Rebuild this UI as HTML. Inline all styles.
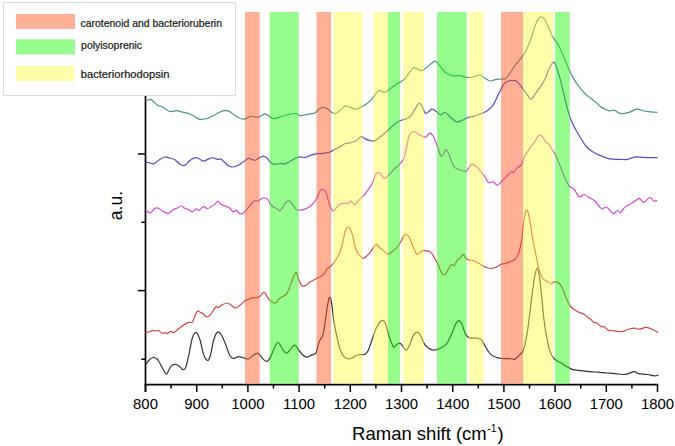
<!DOCTYPE html>
<html><head><meta charset="utf-8">
<style>
html,body{margin:0;padding:0;background:#fff;}
body{width:675px;height:446px;overflow:hidden;}
svg{display:block;font-family:"Liberation Sans",sans-serif;}
</style></head>
<body>
<svg width="675" height="446" viewBox="0 0 675 446">
<rect x="0" y="0" width="675" height="446" fill="#fff"/>
<!-- legend -->
<rect x="3.5" y="2.5" width="232" height="93" fill="#fff" stroke="#dadada" stroke-width="1"/>
<rect x="16" y="14" width="59" height="15" fill="#FFB096"/>
<rect x="16" y="39.3" width="59" height="15" fill="#96FC8E"/>
<rect x="16" y="66" width="58.5" height="15" fill="#FFFCAA"/>
<g font-size="10.5" fill="#151515" stroke="#151515" stroke-width="0.2">
<text x="80.6" y="26.6" textLength="141.4" lengthAdjust="spacingAndGlyphs">carotenoid and bacterioruberin</text>
<text x="81.1" y="49.2" textLength="61" lengthAdjust="spacingAndGlyphs">polyisoprenic</text>
<text x="80.8" y="77.7" textLength="88.6" lengthAdjust="spacingAndGlyphs">bacteriorhodopsin</text>
</g>
<!-- axes -->
<g stroke="#000" stroke-width="1.7" fill="none">
<line x1="145.5" y1="96" x2="145.5" y2="392"/>
<line x1="144.6" y1="384.6" x2="658.3" y2="384.6"/>
</g>
<g id="xticks" stroke="#000" stroke-width="1.5">
<line x1="145.5" y1="384.5" x2="145.5" y2="392"/>
<line x1="171.1" y1="384.5" x2="171.1" y2="388.5"/>
<line x1="196.7" y1="384.5" x2="196.7" y2="392"/>
<line x1="222.3" y1="384.5" x2="222.3" y2="388.5"/>
<line x1="247.9" y1="384.5" x2="247.9" y2="392"/>
<line x1="273.5" y1="384.5" x2="273.5" y2="388.5"/>
<line x1="299.1" y1="384.5" x2="299.1" y2="392"/>
<line x1="324.7" y1="384.5" x2="324.7" y2="388.5"/>
<line x1="350.3" y1="384.5" x2="350.3" y2="392"/>
<line x1="375.9" y1="384.5" x2="375.9" y2="388.5"/>
<line x1="401.5" y1="384.5" x2="401.5" y2="392"/>
<line x1="427.1" y1="384.5" x2="427.1" y2="388.5"/>
<line x1="452.7" y1="384.5" x2="452.7" y2="392"/>
<line x1="478.3" y1="384.5" x2="478.3" y2="388.5"/>
<line x1="503.9" y1="384.5" x2="503.9" y2="392"/>
<line x1="529.5" y1="384.5" x2="529.5" y2="388.5"/>
<line x1="555.1" y1="384.5" x2="555.1" y2="392"/>
<line x1="580.7" y1="384.5" x2="580.7" y2="388.5"/>
<line x1="606.3" y1="384.5" x2="606.3" y2="392"/>
<line x1="631.9" y1="384.5" x2="631.9" y2="388.5"/>
<line x1="657.5" y1="384.5" x2="657.5" y2="392"/>
</g>
<g id="yticks" stroke="#000" stroke-width="1.5">
<line x1="138" y1="154" x2="145" y2="154"/>
<line x1="141.3" y1="222.3" x2="145" y2="222.3"/>
<line x1="138" y1="290.6" x2="145" y2="290.6"/>
<line x1="141.3" y1="359.2" x2="145" y2="359.2"/>
</g>
<g id="xlabels" font-size="14.9" text-anchor="middle" fill="#000">
<text x="145.5" y="409">800</text>
<text x="196.7" y="409">900</text>
<text x="247.9" y="409">1000</text>
<text x="299.1" y="409">1100</text>
<text x="350.3" y="409">1200</text>
<text x="401.5" y="409">1300</text>
<text x="452.7" y="409">1400</text>
<text x="503.9" y="409">1500</text>
<text x="555.1" y="409">1600</text>
<text x="606.3" y="409">1700</text>
<text x="657.5" y="409">1800</text>
</g>
<text x="352.1" y="440.4" font-size="18.5">Raman shift (cm<tspan font-size="10.5" dy="-8" dx="0.5">-1</tspan><tspan dy="8" dx="0.8">)</tspan></text>
<text transform="translate(122.0,205.6) rotate(-90)" font-size="17.6" text-anchor="middle">a.u.</text>
<!-- curves -->
<g id="curves" fill="none" stroke-width="1.2" stroke-linejoin="round">
<path d="M145.5,100.6 C145.7,100.6 145.7,100.8 146.5,100.6 C147.3,100.4 149.5,99.3 150.6,99.4 C151.7,99.5 151.9,100.2 153.1,101.2 C154.3,102.2 156.1,104.4 157.6,105.3 C159.1,106.2 160.2,105.8 162.0,106.8 C163.8,107.8 167.1,110.2 168.7,111.0 C170.3,111.8 170.3,111.6 171.7,111.6 C173.1,111.5 175.2,110.6 176.9,110.7 C178.6,110.8 180.2,111.6 182.0,112.0 C183.8,112.4 186.0,112.5 188.0,113.2 C190.0,113.9 192.1,115.0 193.9,116.0 C195.8,117.0 197.4,118.6 199.1,119.1 C200.8,119.6 202.5,119.3 204.3,119.0 C206.2,118.7 208.5,117.9 210.2,117.2 C211.9,116.5 212.9,115.9 214.6,115.0 C216.3,114.1 218.7,112.5 220.6,111.7 C222.5,110.9 224.6,110.4 226.2,110.4 C227.8,110.5 228.7,111.1 230.2,112.0 C231.7,112.9 233.6,114.6 235.4,115.7 C237.2,116.8 239.7,118.2 241.3,118.7 C242.9,119.2 243.4,119.3 245.0,118.9 C246.6,118.5 248.7,116.7 250.9,116.4 C253.1,116.1 256.6,117.3 258.3,117.2 C260.0,117.1 260.2,116.2 261.3,115.7 C262.4,115.2 263.8,113.9 265.0,113.9 C266.2,114.0 267.3,115.2 268.7,116.0 C270.1,116.8 271.4,118.5 273.1,118.7 C274.8,118.9 276.9,117.8 279.1,117.2 C281.3,116.6 284.0,115.6 286.5,115.0 C289.0,114.4 292.0,113.6 293.9,113.5 C295.8,113.4 296.5,113.8 297.6,114.2 C298.7,114.6 299.5,115.6 300.6,115.7 C301.7,115.8 302.7,115.3 304.3,115.0 C305.9,114.7 308.4,114.3 310.2,113.9 C312.0,113.5 313.9,113.5 315.4,112.7 C316.9,111.9 317.9,109.9 319.1,109.0 C320.3,108.1 321.5,107.4 322.8,107.3 C324.1,107.2 325.7,107.8 327.2,108.6 C328.7,109.4 330.3,111.6 331.7,112.4 C333.1,113.2 334.0,113.8 335.4,113.5 C336.8,113.2 338.2,111.7 339.8,110.5 C341.4,109.3 343.4,106.7 345.0,106.1 C346.6,105.5 347.7,106.6 349.4,107.1 C351.1,107.6 353.7,109.0 355.4,109.1 C357.1,109.2 358.3,108.2 359.8,107.6 C361.3,107.0 362.5,106.6 364.3,105.4 C366.1,104.2 369.0,102.1 370.9,100.2 C372.8,98.3 374.0,95.9 375.4,94.3 C376.8,92.7 377.6,90.9 379.1,90.6 C380.6,90.3 382.8,92.3 384.3,92.3 C385.8,92.3 386.6,91.5 388.0,90.6 C389.4,89.7 390.9,88.0 392.4,86.9 C393.9,85.8 395.4,84.8 396.9,83.9 C398.4,83.0 399.8,82.4 401.3,81.4 C402.8,80.4 404.2,79.7 405.7,78.0 C407.2,76.3 408.8,73.0 410.2,71.3 C411.6,69.6 412.7,68.0 413.9,67.6 C415.1,67.2 416.4,68.6 417.6,69.1 C418.8,69.6 420.0,70.7 421.3,70.6 C422.6,70.5 424.1,69.4 425.7,68.3 C427.3,67.2 429.4,65.1 430.9,63.9 C432.4,62.7 433.5,61.3 434.6,61.2 C435.7,61.1 436.5,62.0 437.6,63.1 C438.7,64.2 440.1,66.1 441.3,67.6 C442.5,69.1 443.6,71.0 445.0,72.2 C446.4,73.4 448.3,74.2 450.0,74.9 C451.7,75.6 453.4,76.0 455.1,76.1 C456.8,76.2 458.4,75.3 460.1,75.5 C461.8,75.7 463.5,76.8 465.2,77.1 C466.9,77.4 468.5,77.6 470.2,77.5 C471.9,77.4 473.5,76.9 475.2,76.5 C476.9,76.1 478.6,74.6 480.3,74.9 C482.0,75.2 483.6,77.5 485.3,78.5 C487.0,79.5 488.7,80.8 490.4,81.0 C492.1,81.2 493.7,79.9 495.4,79.6 C497.1,79.3 498.7,79.2 500.4,79.0 C502.1,78.8 503.8,79.6 505.5,78.5 C507.2,77.4 508.8,74.8 510.5,72.5 C512.2,70.2 513.8,66.9 515.6,64.4 C517.5,61.9 519.8,59.9 521.6,57.4 C523.5,54.9 525.0,52.8 526.7,49.3 C528.4,45.8 530.2,40.4 531.7,36.2 C533.2,32.0 534.4,27.2 535.7,24.1 C537.1,21.0 538.4,18.5 539.8,17.5 C541.1,16.5 542.5,17.0 543.8,18.3 C545.1,19.6 546.2,22.4 547.7,25.5 C549.2,28.6 551.2,33.9 552.9,37.1 C554.6,40.3 556.4,41.8 558.1,44.8 C559.8,47.8 561.5,51.3 563.2,55.2 C564.9,59.1 566.7,64.2 568.4,68.1 C570.1,72.0 571.8,75.4 573.5,78.4 C575.2,81.4 576.8,83.5 578.7,86.1 C580.7,88.7 583.1,91.8 585.2,93.9 C587.4,96.1 589.7,97.5 591.6,99.0 C593.5,100.5 595.4,101.7 596.8,102.9 C598.2,104.1 598.7,105.3 600.0,106.3 C601.3,107.3 603.0,108.0 604.5,108.7 C606.0,109.5 607.5,110.5 609.0,110.8 C610.5,111.0 612.4,110.2 613.5,110.2 C614.6,110.2 614.7,110.3 615.7,110.8 C616.7,111.3 617.8,112.8 619.3,113.2 C620.8,113.6 622.9,113.6 624.7,113.4 C626.5,113.2 628.0,112.8 630.0,112.1 C632.0,111.4 634.1,109.4 636.5,109.2 C638.9,109.0 641.9,110.5 644.3,111.0 C646.7,111.5 648.8,111.7 651.0,111.9 C653.2,112.1 656.3,112.3 657.4,112.4" stroke="#4a9189"/>
<path d="M145.5,162.2 C145.7,162.2 145.7,162.1 146.5,162.2 C147.3,162.3 149.0,162.8 150.2,163.0 C151.4,163.2 152.4,164.2 153.9,163.7 C155.4,163.2 157.4,161.1 159.1,160.0 C160.8,158.9 162.5,157.3 164.3,157.0 C166.1,156.7 168.3,157.7 170.0,158.1 C171.7,158.5 173.0,158.7 174.5,159.6 C176.0,160.5 177.6,162.5 179.0,163.5 C180.4,164.5 181.9,165.5 183.0,165.7 C184.1,165.9 184.5,165.7 185.7,164.8 C186.9,163.9 188.5,161.5 190.2,160.3 C191.8,159.1 194.0,157.8 195.6,157.6 C197.2,157.4 198.7,158.6 200.0,159.2 C201.3,159.8 201.6,161.4 203.5,161.2 C205.4,161.0 209.3,158.1 211.7,157.8 C214.0,157.5 216.0,159.1 217.6,159.3 C219.2,159.6 219.6,158.3 221.3,159.3 C223.0,160.3 226.0,164.2 228.0,165.5 C230.0,166.8 231.4,167.1 233.1,167.0 C234.8,166.9 236.3,166.2 238.3,165.2 C240.3,164.1 243.3,161.8 245.0,160.7 C246.7,159.5 247.1,158.4 248.7,158.3 C250.3,158.2 252.9,160.4 254.6,160.3 C256.3,160.2 257.6,158.6 259.1,157.9 C260.6,157.2 262.1,156.0 263.5,156.1 C264.9,156.2 266.0,157.2 267.2,158.3 C268.4,159.4 269.7,161.8 270.9,162.8 C272.1,163.8 273.1,164.2 274.6,164.3 C276.1,164.4 278.1,163.6 279.8,163.5 C281.5,163.4 283.4,164.1 285.0,163.8 C286.6,163.5 287.7,162.6 289.4,161.7 C291.1,160.8 293.5,159.1 295.4,158.3 C297.3,157.5 299.0,157.0 300.6,156.9 C302.2,156.8 303.4,157.8 305.0,157.6 C306.6,157.3 308.3,156.0 310.2,155.4 C312.1,154.8 314.1,154.2 316.1,153.9 C318.1,153.6 319.9,153.7 322.0,153.4 C324.1,153.2 326.7,153.0 328.7,152.4 C330.7,151.8 332.0,150.8 333.9,149.9 C335.8,149.0 337.9,147.9 339.8,146.9 C341.7,145.9 343.1,144.4 345.0,143.7 C346.9,143.0 348.9,143.3 350.9,142.7 C352.9,142.1 355.2,141.2 356.9,140.2 C358.6,139.2 359.8,136.8 361.0,136.5 C362.2,136.2 363.0,137.7 364.3,138.3 C365.6,138.9 367.0,139.8 368.7,140.2 C370.4,140.6 372.6,141.5 374.6,140.9 C376.6,140.3 378.6,138.0 380.6,136.5 C382.6,135.0 384.5,133.4 386.5,131.7 C388.5,130.0 390.7,127.6 392.4,126.1 C394.1,124.5 395.4,123.4 396.9,122.4 C398.4,121.4 399.8,120.8 401.3,120.2 C402.8,119.7 404.2,119.7 405.7,119.1 C407.2,118.5 408.7,118.0 410.2,116.5 C411.7,115.0 413.1,112.0 414.6,109.8 C416.1,107.6 417.9,103.7 419.1,103.1 C420.3,102.5 420.9,104.4 422.0,106.1 C423.1,107.8 424.1,113.0 425.7,113.5 C427.3,114.0 430.0,109.5 431.7,109.1 C433.4,108.7 434.6,110.3 436.1,111.3 C437.6,112.3 439.1,114.8 440.6,115.0 C442.1,115.2 443.3,112.1 445.0,112.5 C446.7,112.9 448.7,115.7 450.6,117.2 C452.5,118.7 454.3,121.2 456.2,121.7 C458.1,122.2 459.9,121.2 461.8,120.5 C463.7,119.8 465.3,118.5 467.4,117.8 C469.4,117.1 471.9,116.8 474.1,116.1 C476.4,115.4 478.6,114.8 480.9,113.8 C483.1,112.8 485.6,111.9 487.6,110.4 C489.7,108.9 491.3,107.6 493.2,104.8 C495.1,102.0 496.9,97.1 498.8,93.6 C500.7,90.0 502.5,85.7 504.4,83.5 C506.3,81.3 507.9,81.0 510.0,80.6 C512.0,80.2 514.6,80.1 516.7,81.3 C518.8,82.5 520.5,85.6 522.4,88.0 C524.3,90.4 526.5,94.0 528.0,95.9 C529.5,97.8 529.8,100.0 531.3,99.2 C532.8,98.5 535.4,93.4 536.9,91.4 C538.4,89.4 538.6,89.4 540.0,87.4 C541.4,85.4 543.5,82.3 545.0,79.3 C546.5,76.3 547.6,72.0 548.9,69.2 C550.2,66.4 551.6,63.6 552.7,62.7 C553.8,61.8 554.2,61.9 555.3,64.0 C556.4,66.2 557.9,71.1 559.2,75.6 C560.5,80.1 561.8,85.9 563.1,91.1 C564.4,96.3 565.6,101.9 566.9,106.6 C568.2,111.3 568.9,114.8 570.8,119.5 C572.7,124.2 575.9,130.0 578.5,134.5 C581.1,139.0 583.9,143.6 586.3,146.5 C588.7,149.4 590.4,150.2 592.7,151.7 C595.1,153.2 597.6,154.4 600.4,155.6 C603.2,156.8 606.3,158.3 609.5,158.9 C612.7,159.5 616.8,159.3 619.8,159.4 C622.8,159.5 624.9,159.8 627.5,159.4 C630.1,159.0 632.7,157.2 635.3,156.9 C637.9,156.6 640.4,157.3 643.0,157.4 C645.6,157.5 648.3,157.6 650.7,157.6 C653.1,157.6 656.4,157.6 657.5,157.6" stroke="#5550bc"/>
<path d="M145.5,210.7 C145.7,210.7 145.7,210.3 146.5,210.7 C147.3,211.1 148.7,213.4 150.2,213.0 C151.7,212.6 153.9,208.8 155.4,208.1 C156.9,207.3 157.9,207.9 159.1,208.5 C160.3,209.1 161.9,210.9 162.8,211.5 C163.7,212.1 163.6,211.6 164.3,211.9 C165.0,212.2 166.2,213.2 167.2,213.3 C168.2,213.4 169.1,212.9 170.2,212.2 C171.3,211.5 172.8,210.0 173.9,209.3 C175.0,208.6 175.7,208.8 176.9,208.2 C178.1,207.6 180.0,205.9 181.3,206.0 C182.7,206.1 183.9,207.9 185.0,208.5 C186.1,209.1 186.8,208.8 188.0,209.3 C189.2,209.9 191.1,211.9 192.4,211.8 C193.8,211.7 195.0,209.1 196.1,208.8 C197.2,208.6 197.9,210.7 199.1,210.3 C200.3,209.9 202.2,206.6 203.5,206.3 C204.8,206.1 205.8,208.8 207.2,208.8 C208.6,208.8 210.5,207.0 211.7,206.3 C212.9,205.6 213.6,205.2 214.6,204.4 C215.6,203.6 216.5,201.4 217.6,201.4 C218.7,201.4 220.1,203.6 221.3,204.4 C222.5,205.2 223.7,205.4 225.0,206.0 C226.3,206.6 228.1,206.8 229.4,207.8 C230.8,208.8 232.0,211.5 233.1,211.9 C234.2,212.3 234.8,210.1 236.1,210.4 C237.3,210.8 239.1,213.8 240.6,214.0 C242.1,214.2 243.8,212.5 245.0,211.5 C246.2,210.5 246.9,209.3 248.0,208.0 C249.1,206.7 250.6,204.7 251.7,203.5 C252.8,202.3 253.5,201.0 254.6,200.6 C255.7,200.2 257.1,201.4 258.3,201.0 C259.5,200.6 260.9,198.8 262.0,198.3 C263.1,197.8 264.0,197.8 265.0,198.0 C266.0,198.2 267.0,198.6 268.0,199.8 C269.0,201.0 269.9,203.8 270.9,205.0 C271.9,206.2 272.9,206.6 273.9,207.2 C274.9,207.8 275.9,208.1 276.9,208.7 C277.9,209.3 278.9,210.9 279.8,210.9 C280.7,210.9 281.1,209.9 282.0,208.7 C282.9,207.5 283.9,204.8 285.0,203.5 C286.1,202.2 287.5,200.5 288.7,200.6 C289.9,200.7 291.2,202.8 292.4,204.3 C293.6,205.8 294.9,208.4 296.1,209.4 C297.3,210.4 298.4,210.2 299.8,210.2 C301.2,210.2 302.8,209.9 304.3,209.4 C305.8,208.9 307.2,208.2 308.7,207.2 C310.2,206.2 311.7,205.0 313.1,203.5 C314.5,202.0 315.9,200.2 316.9,198.3 C317.9,196.5 318.2,193.9 319.1,192.4 C320.0,190.9 320.9,189.5 322.0,189.4 C323.1,189.3 324.7,190.1 325.7,191.7 C326.7,193.3 327.2,196.6 328.0,199.1 C328.8,201.6 329.3,204.5 330.2,206.5 C331.1,208.5 332.1,210.7 333.1,210.9 C334.1,211.2 335.0,209.1 336.1,208.0 C337.2,206.9 338.3,205.1 339.8,204.3 C341.3,203.5 343.6,203.3 345.0,203.2 C346.4,203.1 347.0,203.9 348.0,203.6 C349.0,203.3 349.9,201.0 351.0,201.2 C352.1,201.4 353.3,204.9 354.7,204.6 C356.1,204.3 357.5,201.2 359.1,199.6 C360.7,198.0 362.7,196.9 364.2,195.2 C365.7,193.5 366.9,191.4 368.2,189.5 C369.5,187.6 370.8,186.2 372.2,183.5 C373.6,180.8 374.9,175.1 376.3,173.4 C377.7,171.7 379.0,172.6 380.3,173.4 C381.6,174.2 383.0,178.1 384.3,178.4 C385.6,178.7 386.8,176.8 388.3,175.4 C389.8,174.0 391.7,171.5 393.4,169.8 C395.1,168.1 396.7,167.1 398.4,165.3 C400.1,163.6 402.1,162.3 403.5,159.3 C404.9,156.3 405.5,151.2 406.5,147.2 C407.5,143.2 408.1,137.7 409.5,135.1 C410.9,132.5 412.9,131.5 414.6,131.5 C416.3,131.5 417.8,134.2 419.6,135.1 C421.4,136.0 423.9,137.4 425.6,137.1 C427.3,136.8 428.4,133.1 429.7,133.1 C431.0,133.1 432.4,134.8 433.7,137.1 C435.0,139.4 436.4,144.0 437.7,147.2 C439.0,150.4 440.0,155.9 441.4,156.3 C442.8,156.7 444.8,150.1 446.0,149.6 C447.2,149.1 447.6,151.4 448.6,153.5 C449.6,155.6 450.8,159.8 451.8,162.2 C452.9,164.5 453.5,166.3 454.9,167.6 C456.3,168.9 458.6,169.3 460.4,170.0 C462.2,170.7 464.5,172.0 465.9,171.6 C467.3,171.2 467.9,168.8 469.0,167.6 C470.1,166.4 470.9,164.3 472.2,164.2 C473.5,164.1 475.5,165.7 476.9,166.9 C478.3,168.1 479.5,170.0 480.8,171.6 C482.1,173.2 483.4,174.5 484.7,176.3 C486.0,178.1 487.2,181.6 488.6,182.5 C490.0,183.4 491.9,181.4 493.3,181.8 C494.8,182.2 495.9,185.3 497.3,185.2 C498.8,185.1 500.4,182.5 502.0,181.0 C503.6,179.5 505.1,177.9 506.7,176.3 C508.3,174.7 510.2,172.2 511.4,171.6 C512.6,170.9 512.7,173.1 513.7,172.4 C514.7,171.7 516.3,168.8 517.6,167.6 C518.9,166.3 520.1,166.8 521.3,164.9 C522.5,163.0 523.4,158.5 524.7,155.9 C526.0,153.3 527.5,151.6 529.2,149.2 C530.9,146.8 533.1,143.6 534.8,141.3 C536.5,139.0 538.0,136.1 539.3,135.3 C540.6,134.6 541.5,135.6 542.6,136.8 C543.7,138.0 545.1,141.3 546.0,142.4 C546.9,143.5 547.1,142.3 548.2,143.6 C549.3,144.9 551.4,148.2 552.7,150.3 C554.0,152.4 554.8,153.1 556.1,155.9 C557.4,158.7 559.1,163.4 560.6,167.1 C562.1,170.8 563.6,175.1 565.1,178.3 C566.6,181.5 568.1,184.8 569.5,186.5 C570.9,188.2 572.2,187.2 573.7,188.8 C575.2,190.4 577.1,194.8 578.3,196.1 C579.5,197.4 579.7,196.9 580.7,196.6 C581.8,196.3 583.1,194.2 584.6,194.5 C586.1,194.8 588.3,197.0 590.0,198.1 C591.7,199.2 593.0,199.2 594.7,200.8 C596.4,202.4 598.8,206.0 600.1,207.4 C601.4,208.8 601.6,209.1 602.6,209.0 C603.6,208.9 605.1,206.9 606.3,207.0 C607.4,207.1 608.3,208.7 609.5,209.8 C610.7,210.9 612.0,213.6 613.3,213.7 C614.6,213.8 616.3,210.7 617.5,210.5 C618.7,210.3 619.4,213.3 620.5,212.8 C621.6,212.3 622.9,209.0 624.3,207.7 C625.7,206.3 627.3,205.7 629.0,204.7 C630.7,203.7 632.6,202.6 634.3,201.5 C636.0,200.4 637.7,198.2 639.3,198.4 C640.9,198.6 642.1,202.6 643.8,202.4 C645.5,202.2 647.9,197.7 649.6,197.5 C651.3,197.3 652.8,200.6 654.1,201.1 C655.4,201.6 656.7,200.5 657.2,200.4" stroke="#cf4ccf"/>
<path d="M145.5,332.6 C145.6,332.6 145.2,332.8 145.9,332.6 C146.6,332.5 148.3,332.1 149.5,331.7 C150.7,331.3 152.0,330.5 153.1,330.4 C154.2,330.3 154.9,331.1 155.8,331.1 C156.7,331.1 157.4,330.1 158.4,330.4 C159.4,330.7 160.8,332.7 162.0,333.1 C163.2,333.5 164.7,332.5 165.6,332.6 C166.5,332.7 166.5,333.7 167.4,333.5 C168.3,333.3 169.9,331.4 171.0,331.3 C172.1,331.2 172.6,332.8 173.7,332.6 C174.8,332.4 176.0,330.9 177.3,329.9 C178.6,328.8 180.2,327.4 181.7,326.3 C183.2,325.2 185.0,324.2 186.2,323.6 C187.4,323.0 187.8,322.7 188.9,322.4 C190.0,322.1 191.2,323.6 192.5,321.8 C193.8,320.0 195.7,313.2 197.0,311.6 C198.3,310.1 199.6,312.1 200.6,312.5 C201.6,312.9 202.2,313.1 203.2,313.8 C204.2,314.6 205.6,316.9 206.8,317.0 C208.0,317.1 208.9,316.4 210.4,314.7 C211.9,313.0 214.5,308.2 215.8,307.0 C217.2,305.8 217.4,307.9 218.5,307.5 C219.6,307.1 220.6,305.6 222.1,304.8 C223.6,304.1 225.9,302.9 227.4,303.0 C228.9,303.1 229.7,304.4 231.0,305.2 C232.3,306.0 234.0,308.0 235.5,308.0 C237.0,308.0 238.4,306.5 240.0,305.3 C241.6,304.1 243.5,301.8 245.0,300.8 C246.5,299.8 247.7,299.7 249.0,299.2 C250.3,298.7 251.8,297.9 253.1,297.6 C254.4,297.3 255.9,297.8 257.1,297.6 C258.3,297.4 258.9,297.1 260.1,296.2 C261.3,295.3 262.7,291.6 264.2,292.2 C265.7,292.8 267.4,297.8 269.2,299.6 C271.0,301.4 273.5,303.3 275.2,303.1 C276.9,302.9 277.9,299.8 279.3,298.6 C280.7,297.5 282.0,297.2 283.3,296.2 C284.6,295.2 286.0,294.9 287.3,292.6 C288.6,290.3 290.0,285.9 291.4,282.5 C292.8,279.1 294.6,273.1 295.8,272.4 C297.0,271.7 297.4,276.3 298.4,278.5 C299.3,280.7 300.3,284.3 301.5,285.5 C302.7,286.7 304.2,286.0 305.5,285.5 C306.8,285.0 308.0,283.5 309.5,282.5 C311.0,281.5 312.9,280.4 314.6,279.5 C316.3,278.6 318.1,278.0 319.6,277.1 C321.1,276.2 322.4,275.7 323.6,274.4 C324.8,273.1 325.4,270.9 326.7,269.4 C328.0,267.9 330.2,266.9 331.7,265.4 C333.2,263.9 334.3,262.5 335.7,260.3 C337.1,258.1 338.6,255.2 339.8,252.3 C341.0,249.4 341.8,246.3 342.6,243.0 C343.5,239.7 344.1,234.9 344.9,232.3 C345.7,229.7 346.6,227.8 347.5,227.2 C348.4,226.6 349.3,227.4 350.2,228.8 C351.1,230.2 351.7,232.1 352.6,235.4 C353.5,238.7 354.7,245.7 355.7,248.8 C356.7,251.9 357.6,252.6 358.8,254.2 C360.0,255.8 361.5,257.9 362.8,258.2 C364.1,258.5 365.4,257.2 366.7,256.1 C368.0,255.1 369.1,253.8 370.6,251.9 C372.1,250.0 374.4,245.3 375.8,244.5 C377.2,243.7 377.8,246.1 379.2,247.2 C380.6,248.3 382.6,249.9 384.0,251.1 C385.4,252.3 386.6,254.1 387.9,254.2 C389.2,254.3 390.5,252.8 391.8,251.9 C393.1,251.0 394.3,250.4 395.7,248.8 C397.1,247.2 398.8,244.9 400.4,242.5 C402.0,240.1 403.7,235.5 405.1,234.6 C406.6,233.7 407.8,235.0 409.1,237.0 C410.4,239.0 411.7,243.5 413.0,246.4 C414.3,249.3 415.5,253.4 416.9,254.2 C418.3,255.0 420.2,251.7 421.6,251.1 C423.1,250.5 424.2,250.7 425.6,250.8 C427.1,250.9 428.9,250.8 430.3,251.9 C431.7,253.0 432.9,255.3 434.2,257.4 C435.5,259.5 436.9,262.1 438.0,264.5 C439.1,266.9 440.0,269.9 441.0,271.6 C442.0,273.4 443.1,275.0 444.1,275.0 C445.1,275.0 445.9,273.3 447.1,271.6 C448.3,269.9 449.9,265.9 451.1,264.9 C452.3,263.9 453.2,266.2 454.2,265.5 C455.2,264.8 456.2,261.7 457.2,260.5 C458.2,259.3 459.2,259.1 460.2,258.1 C461.2,257.1 462.2,254.3 463.2,254.4 C464.2,254.5 465.3,257.9 466.3,258.9 C467.3,259.8 468.1,259.8 469.3,260.1 C470.5,260.4 472.0,260.1 473.3,260.5 C474.6,260.9 476.0,261.8 477.3,262.5 C478.6,263.2 479.9,264.1 481.4,264.9 C482.9,265.7 484.7,266.9 486.4,267.5 C488.1,268.1 489.8,268.6 491.5,268.5 C493.2,268.4 494.8,267.6 496.5,266.9 C498.2,266.2 500.0,264.7 501.5,264.1 C503.0,263.5 504.1,263.9 505.6,263.5 C507.1,263.1 509.1,262.1 510.6,261.5 C512.1,260.9 513.4,261.0 514.7,259.6 C516.0,258.2 517.4,256.8 518.6,253.4 C519.8,250.0 520.9,245.0 521.8,239.2 C522.7,233.4 523.3,223.7 524.1,218.8 C524.9,213.9 526.0,210.7 526.8,210.0 C527.5,209.3 528.0,212.2 528.6,214.5 C529.2,216.8 529.8,219.8 530.4,223.5 C531.0,227.2 531.7,232.9 532.4,237.0 C533.1,241.1 533.7,244.1 534.5,248.0 C535.3,251.9 536.3,256.9 537.0,260.2 C537.7,263.5 538.0,265.6 538.6,268.0 C539.2,270.4 540.0,272.8 540.9,274.7 C541.8,276.6 542.7,278.1 543.7,279.2 C544.7,280.3 545.7,280.6 547.0,281.4 C548.3,282.2 550.3,283.8 551.5,283.9 C552.7,283.9 552.9,281.7 554.3,281.7 C555.6,281.7 558.1,282.4 559.6,283.8 C561.1,285.2 562.1,287.6 563.3,290.4 C564.5,293.1 565.8,297.6 567.0,300.3 C568.2,303.0 569.4,304.9 570.7,306.5 C572.0,308.1 573.6,309.0 575.0,310.0 C576.4,311.0 577.4,311.7 579.0,312.4 C580.6,313.1 582.8,313.4 584.4,314.4 C586.0,315.3 587.3,317.3 588.4,318.1 C589.5,318.9 589.9,318.4 590.8,319.1 C591.6,319.8 592.4,321.6 593.5,322.3 C594.6,323.0 595.9,322.4 597.2,323.2 C598.5,323.9 600.1,326.2 601.2,326.8 C602.3,327.4 602.7,326.0 603.9,326.6 C605.1,327.2 607.2,329.8 608.6,330.4 C610.0,331.0 610.7,330.4 612.0,330.5 C613.3,330.6 614.5,331.1 616.3,331.3 C618.0,331.5 620.4,332.0 622.5,331.6 C624.6,331.2 626.7,329.8 628.7,329.2 C630.8,328.6 632.9,328.2 634.8,328.2 C636.6,328.2 637.9,329.3 639.8,329.2 C641.6,329.1 643.8,327.4 645.9,327.4 C648.0,327.4 650.0,328.4 652.1,329.2 C654.2,330.0 657.3,331.9 658.3,332.4" stroke="#c84a4a"/>
<path d="M145.5,364.5 C145.6,364.4 145.5,364.9 146.2,364.1 C146.8,363.3 148.2,360.8 149.4,359.7 C150.6,358.6 152.2,357.3 153.6,357.3 C155.0,357.3 156.3,358.3 157.6,359.7 C158.9,361.1 160.2,364.0 161.3,365.9 C162.4,367.8 163.1,369.7 164.0,371.1 C164.9,372.5 165.7,374.2 166.5,374.1 C167.3,374.0 167.9,371.8 168.7,370.4 C169.5,369.0 170.3,366.9 171.4,365.9 C172.5,364.9 174.1,364.4 175.4,364.4 C176.7,364.4 177.9,365.0 179.1,365.9 C180.3,366.8 181.7,369.4 182.8,369.6 C183.9,369.9 184.7,369.7 185.7,367.4 C186.7,365.1 187.6,360.5 188.7,355.6 C189.8,350.7 191.2,341.6 192.4,337.8 C193.6,334.0 194.9,332.4 196.1,332.6 C197.3,332.9 198.6,335.7 199.8,339.3 C201.0,342.9 202.3,350.6 203.5,354.1 C204.7,357.6 206.1,359.9 207.2,360.3 C208.3,360.7 209.1,359.8 210.2,356.3 C211.3,352.8 212.6,343.4 213.9,339.3 C215.2,335.2 216.6,332.4 217.9,331.9 C219.2,331.3 220.6,333.5 222.0,336.0 C223.4,338.5 225.3,343.6 226.5,346.7 C227.7,349.8 228.3,352.8 229.4,354.8 C230.5,356.8 231.6,358.2 233.1,358.5 C234.6,358.8 236.3,356.7 238.3,356.7 C240.3,356.7 243.3,357.9 245.0,358.3 C246.7,358.7 247.2,359.5 248.6,359.0 C249.9,358.5 251.6,356.4 253.1,355.4 C254.6,354.4 256.3,353.1 257.5,353.1 C258.7,353.1 259.1,354.3 260.2,355.4 C261.2,356.5 262.6,358.9 263.8,359.9 C265.0,360.9 266.2,361.9 267.4,361.3 C268.6,360.7 269.8,358.3 271.0,356.0 C272.2,353.7 273.4,349.6 274.6,347.3 C275.8,345.1 276.9,342.2 278.2,342.5 C279.5,342.8 281.2,347.3 282.6,349.1 C284.0,350.9 285.2,353.1 286.6,353.1 C288.0,353.1 289.3,350.4 290.7,349.1 C292.1,347.8 293.4,345.1 294.8,345.2 C296.2,345.3 297.6,348.4 298.8,350.0 C300.1,351.6 301.0,353.3 302.3,354.5 C303.6,355.7 305.3,357.1 306.8,357.2 C308.3,357.3 309.8,356.1 311.3,355.4 C312.8,354.7 314.8,354.5 315.8,353.1 C316.9,351.8 317.0,349.3 317.6,347.3 C318.2,345.3 318.5,343.2 319.4,341.1 C320.3,339.0 322.0,338.2 323.0,334.8 C324.0,331.4 324.6,325.3 325.3,320.5 C326.0,315.7 326.7,309.9 327.4,306.1 C328.1,302.3 328.7,298.6 329.3,297.6 C329.9,296.6 330.5,298.2 331.0,300.0 C331.5,301.8 331.9,304.9 332.4,308.5 C332.9,312.1 333.0,316.6 333.8,321.4 C334.6,326.2 335.9,332.4 337.0,337.1 C338.1,341.8 338.9,346.3 340.1,349.6 C341.3,352.9 342.6,355.1 344.0,356.7 C345.4,358.3 347.1,358.9 348.7,359.0 C350.2,359.1 352.0,357.9 353.3,357.3 C354.6,356.7 355.3,355.8 356.5,355.3 C357.7,354.9 359.0,354.8 360.4,354.6 C361.8,354.4 363.8,354.9 365.1,354.2 C366.4,353.5 367.1,352.7 368.3,350.2 C369.5,347.7 370.8,343.1 372.2,339.2 C373.6,335.3 375.2,329.8 376.9,326.7 C378.5,323.6 380.7,320.9 382.1,320.4 C383.5,319.9 384.4,321.0 385.5,323.5 C386.6,326.0 387.4,331.4 388.7,335.3 C390.0,339.2 392.1,345.2 393.4,346.8 C394.7,348.4 395.4,345.3 396.5,344.7 C397.6,344.1 398.6,342.9 399.7,343.2 C400.8,343.5 401.8,345.1 402.8,346.3 C403.8,347.5 404.8,350.2 405.9,350.2 C406.9,350.2 407.9,348.6 409.1,346.3 C410.3,344.0 411.7,338.5 413.0,336.1 C414.3,333.8 415.7,332.5 416.9,332.2 C418.1,331.9 418.8,332.4 420.1,334.5 C421.4,336.6 423.2,342.3 424.8,344.7 C426.4,347.1 427.9,347.8 429.5,348.7 C431.1,349.6 432.2,350.3 434.2,350.2 C436.2,350.1 439.3,348.9 441.4,347.8 C443.5,346.8 444.9,346.3 446.6,343.9 C448.3,341.5 450.3,336.9 451.8,333.6 C453.3,330.3 454.4,326.2 455.6,324.1 C456.8,322.0 457.9,320.6 459.0,320.7 C460.1,320.8 461.0,322.2 462.1,324.6 C463.2,327.0 464.6,332.7 465.9,334.9 C467.2,337.1 468.1,337.5 469.8,338.0 C471.5,338.5 474.3,337.7 476.2,338.0 C478.1,338.3 479.9,338.6 481.4,340.0 C482.9,341.4 483.8,344.1 485.3,346.5 C486.8,348.9 488.5,352.3 490.4,354.2 C492.3,356.1 494.8,356.9 496.9,357.6 C499.0,358.3 501.2,358.4 503.3,358.6 C505.4,358.8 507.8,358.5 509.7,358.6 C511.6,358.7 513.2,359.8 514.9,359.1 C516.6,358.4 518.5,356.1 520.0,354.5 C521.5,352.9 522.4,353.0 523.6,349.6 C524.8,346.2 526.1,339.1 527.0,333.9 C527.9,328.7 528.4,324.6 529.2,318.2 C530.0,311.8 531.0,302.8 531.9,295.7 C532.8,288.6 534.0,280.1 534.9,275.5 C535.8,270.9 536.4,268.3 537.1,268.3 C537.8,268.3 538.5,270.9 539.3,275.5 C540.0,280.1 540.9,288.6 541.6,295.7 C542.4,302.8 543.0,311.8 543.8,318.2 C544.5,324.6 545.1,328.7 546.1,333.9 C547.1,339.1 548.2,345.5 549.5,349.6 C550.8,353.7 552.2,356.4 554.0,358.6 C555.8,360.8 558.5,361.3 560.5,362.6 C562.5,363.9 564.4,365.3 566.3,366.4 C568.2,367.5 569.7,368.6 572.1,369.3 C574.5,370.0 577.8,370.3 580.7,370.7 C583.6,371.1 586.5,371.4 589.4,371.6 C592.3,371.9 595.2,372.0 598.1,372.2 C601.0,372.4 603.9,372.8 606.8,373.0 C609.7,373.2 612.9,373.4 615.5,373.6 C618.1,373.9 620.5,374.5 622.7,374.5 C624.9,374.5 626.6,374.1 628.5,373.6 C630.4,373.1 632.6,371.6 634.3,371.6 C636.0,371.6 636.4,373.1 638.6,373.6 C640.8,374.1 644.6,374.1 647.3,374.5 C649.9,374.9 652.6,375.8 654.5,375.9 C656.4,376.0 658.1,375.1 658.8,375.0" stroke="#353535"/>
</g>
<!-- bands -->
<g id="bands">
<rect x="245" y="12" width="14.7" height="371.5" fill="rgb(255, 79, 22)" fill-opacity="0.45"/>
<rect x="269.6" y="12" width="29.2" height="371.5" fill="rgb(22, 248, 4)" fill-opacity="0.45"/>
<rect x="316.4" y="12" width="14.7" height="371.5" fill="rgb(255, 79, 22)" fill-opacity="0.45"/>
<rect x="333.3" y="12" width="29.4" height="371.5" fill="rgb(255, 248, 66)" fill-opacity="0.45"/>
<rect x="373.3" y="12" width="14.7" height="371.5" fill="rgb(255, 248, 66)" fill-opacity="0.45"/>
<rect x="388" y="12" width="12" height="371.5" fill="rgb(22, 248, 4)" fill-opacity="0.45"/>
<rect x="402.9" y="12" width="21.1" height="371.5" fill="rgb(255, 248, 66)" fill-opacity="0.45"/>
<rect x="437" y="12" width="29.7" height="371.5" fill="rgb(22, 248, 4)" fill-opacity="0.45"/>
<rect x="469" y="12" width="14.6" height="371.5" fill="rgb(255, 248, 66)" fill-opacity="0.45"/>
<rect x="501" y="12" width="22.1" height="371.5" fill="rgb(255, 79, 22)" fill-opacity="0.45"/>
<rect x="523.1" y="12" width="30.1" height="371.5" fill="rgb(255, 248, 66)" fill-opacity="0.45"/>
<rect x="555.1" y="12" width="14.7" height="371.5" fill="rgb(22, 248, 4)" fill-opacity="0.45"/>
</g>
</svg>
</body></html>
